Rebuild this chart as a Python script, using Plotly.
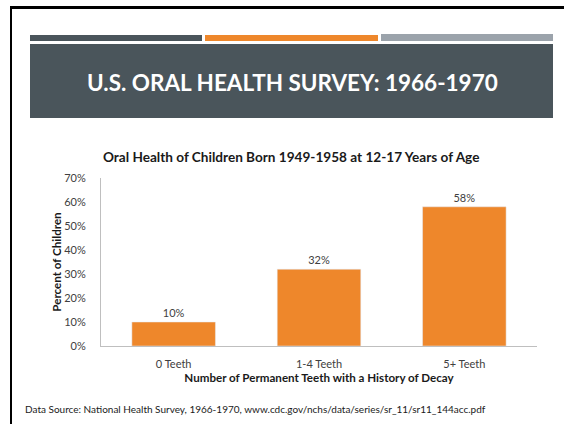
import plotly.graph_objects as go

categories = ["0 Teeth", "1-4 Teeth", "5+ Teeth"]
values = [10, 32, 58]
labels = ["10%", "32%", "58%"]
y_ticks = [0, 10, 20, 30, 40, 50, 60, 70]
y_tick_labels = ["0%", "10%", "20%", "30%", "40%", "50%", "60%", "70%"]

W, H = 564, 424
L, R, T, B = 101, 27, 178, 78
PW, PH = W - L - R, H - T - B

def px(x):
    return (x - L) / PW

def py(y):
    return (H - B - y) / PH

DARK = "#4a555b"
ORANGE = "#ee872b"
GREY = "#9ba3ab"
FONT = "Lato, sans-serif"

fig = go.Figure(go.Bar(
    x=categories, y=values, text=labels, textposition="outside",
    marker_color=ORANGE, width=0.575, cliponaxis=False,
    textfont=dict(family=FONT, size=11, color="#404040"),
))

shapes = []
def rect(x0, y0, x1, y1, color):
    shapes.append(dict(type="rect", xref="paper", yref="paper",
                       x0=px(x0), x1=px(x1), y0=py(y1), y1=py(y0),
                       fillcolor=color, line_width=0, layer="below"))

# slide frame
rect(10, 6, 564, 9, "#000000")
rect(10, 6, 12, 424, "#000000")
# header bars
rect(30, 35, 202, 41, DARK)
rect(205, 35, 378, 41, ORANGE)
rect(381, 34, 553, 41, GREY)
rect(30, 44, 553, 118, DARK)

annotations = [
    dict(text="<b>U.S. ORAL HEALTH SURVEY: 1966-1970</b>", x=px(292), y=py(82),
         xref="paper", yref="paper", showarrow=False, xanchor="center", yanchor="middle",
         font=dict(family=FONT, size=22.5, color="white")),
    dict(text="<b>Oral Health of Children Born 1949-1958 at 12-17 Years of Age</b>",
         x=px(291), y=py(157), xref="paper", yref="paper", showarrow=False,
         xanchor="center", yanchor="middle",
         font=dict(family=FONT, size=13.6, color="#1a1a1a")),
    dict(text="Data Source: National Health Survey, 1966-1970, www.cdc.gov/nchs/data/series/sr_11/sr11_144acc.pdf",
         x=px(23), y=py(409), xref="paper", yref="paper", showarrow=False,
         xanchor="left", yanchor="middle",
         font=dict(family=FONT, size=10, color="#1a1a1a")),
]

fig.update_layout(
    width=W, height=H, margin=dict(l=L, r=R, t=T, b=B),
    paper_bgcolor="white", plot_bgcolor="white",
    showlegend=False, shapes=shapes, annotations=annotations,
    xaxis=dict(showline=True, linecolor="#bfbfbf", linewidth=1,
               ticks="outside", ticklen=8, tickcolor="rgba(0,0,0,0)",
               tickfont=dict(family=FONT, size=11, color="#404040"),
               title=dict(text="<b>Number of Permanent Teeth with a History of Decay</b>",
                          font=dict(family=FONT, size=11.6, color="#1a1a1a"),
                          standoff=4)),
    yaxis=dict(range=[0, 70], tickvals=y_ticks, ticktext=y_tick_labels,
               showgrid=False, showline=True, linecolor="#bfbfbf", linewidth=1,
               zeroline=False, ticks="outside", ticklen=12, tickcolor="rgba(0,0,0,0)",
               tickfont=dict(family=FONT, size=11, color="#404040"),
               title=dict(text="<b>Percent of Children</b>",
                          font=dict(family=FONT, size=11.6, color="#1a1a1a"),
                          standoff=0)),
)

fig.write_html("out.html", config={"displayModeBar": False},
               post_script="document.body.style.margin='0';")
